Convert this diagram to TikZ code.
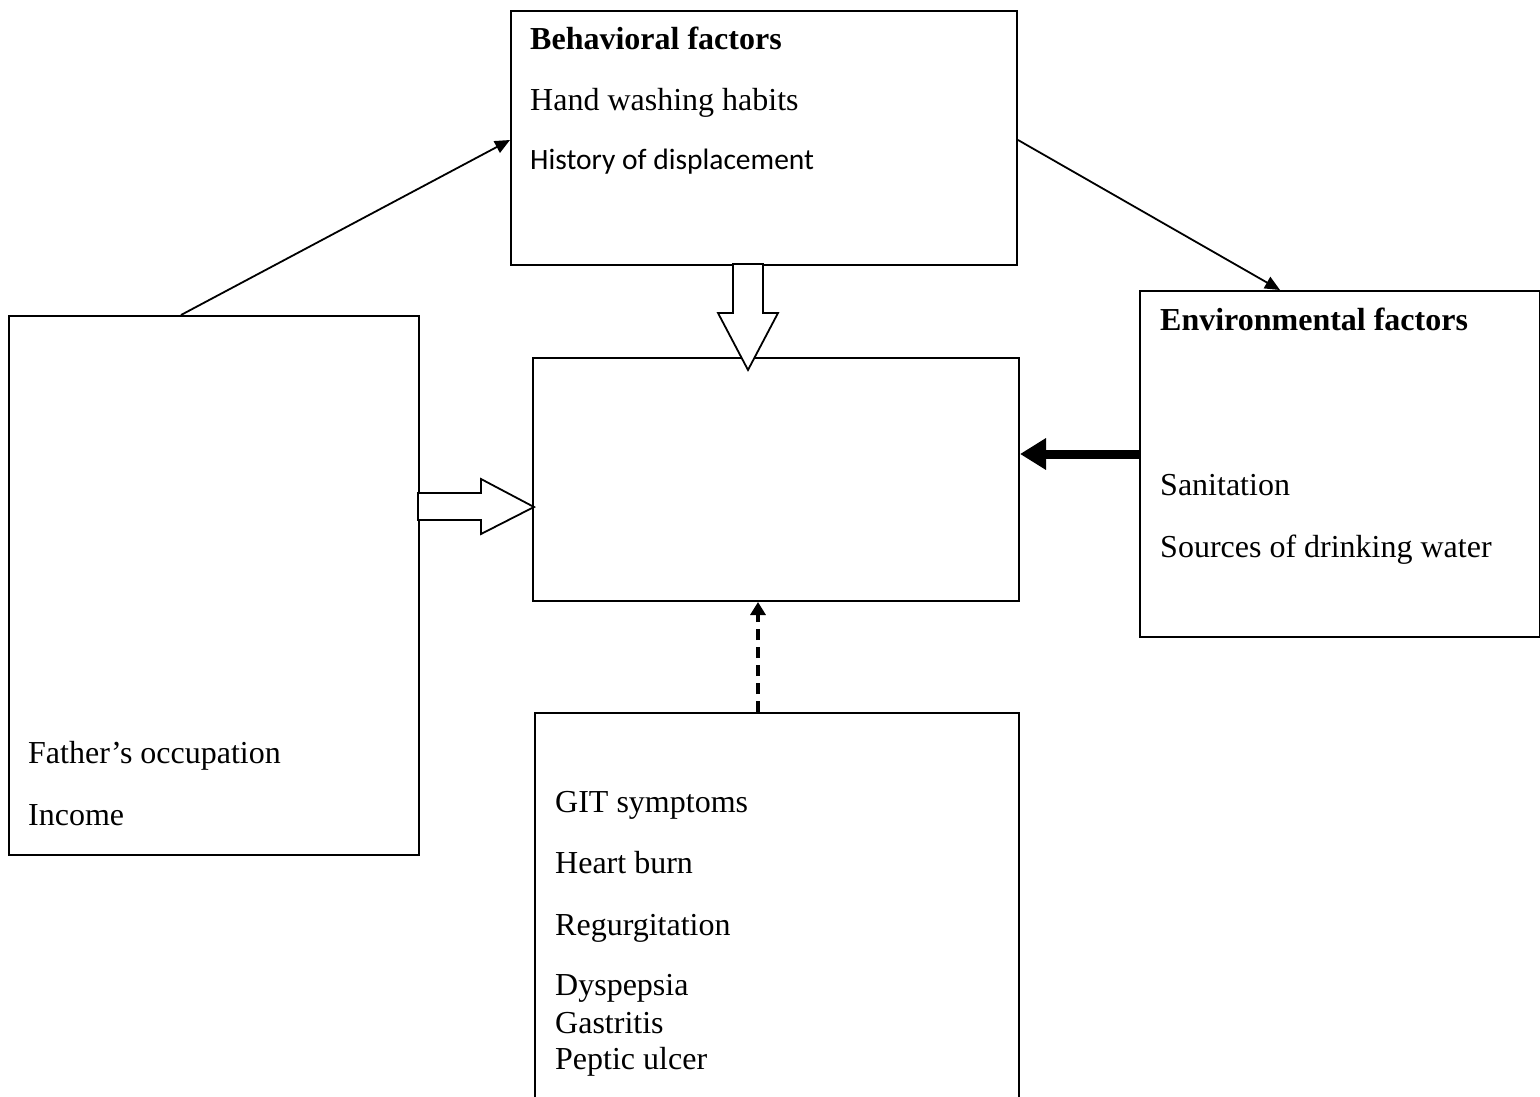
\documentclass[tikz,border=0pt]{standalone}
\usepackage{fontspec}
\setmainfont{Liberation Serif}
\newfontfamily\calib{Carlito}
\usetikzlibrary{arrows.meta,calc}
\tikzset{
  box/.style={draw=black, line width=2pt, fill=none, inner sep=0pt, anchor=north west},
  txt/.style={inner sep=0pt, anchor=base west, font=\fontsize{32}{38}\selectfont},
  calibtxt/.style={inner sep=0pt, anchor=base west, font=\calib\fontsize{29.5}{35}\selectfont},
  thin/.style={line width=1.8pt, -{Triangle[length=15pt,width=13pt]}},
  heavy/.style={line width=9pt, -{Triangle[length=26pt,width=30pt]}},
  dashlink/.style={line width=4pt, dash pattern=on 11pt off 7pt, -{Triangle[length=13pt,width=15pt]}},
  blockarrow/.style={draw=black, fill=white, line width=1.8pt, line join=miter}
}
\begin{document}
\begin{tikzpicture}[x=1pt,y=-1pt]
\clip (0,0) rectangle (1540,1097);
\fill[white] (0,0) rectangle (1540,1097);
% boxes
\node[box, minimum width=506pt, minimum height=254pt] (beh) at (510,10) {};
\node[box, minimum width=486pt, minimum height=243pt] (ctr) at (532,357) {};
\node[box, minimum width=400pt, minimum height=346pt] (env) at (1139,290) {};
\node[box, minimum width=410pt, minimum height=539pt] (left) at (8,315) {};
\node[box, minimum width=484pt, minimum height=420pt] (git) at (534,712) {};
% texts
\node[txt] (b1) at (530,50) {\bfseries Behavioral factors};
\node[txt] (b2) at (530,111) {Hand washing habits};
\node[calibtxt] (b3) at (530,170) {History of displacement};
\node[txt] (e1) at (1160,330) {\bfseries Environmental factors};
\node[txt] (e2) at (1160,495) {Sanitation};
\node[txt] (e3) at (1160,557) {Sources of drinking water};
\node[txt] (l1) at (28,763) {Father’s occupation};
\node[txt] (l2) at (28,825) {Income};
\node[txt] (g1) at (555,812) {GIT symptoms};
\node[txt] (g2) at (555,873) {Heart burn};
\node[txt] (g3) at (555,935) {Regurgitation};
\node[txt] (g4) at (555,995) {Dyspepsia};
\node[txt] (g5) at (555,1033) {Gastritis};
\node[txt] (g6) at (555,1069) {Peptic ulcer};
% thin arrows
\draw[thin] ([xshift=173pt]left.north west) -- ([yshift=-130pt]beh.north west);
\draw[thin] ([yshift=-130pt]beh.north east) -- ([xshift=141pt]env.north west);
% heavy arrow
\draw[heavy] ([yshift=-164pt]env.north west) -- ([yshift=-97pt]ctr.north east);
% dashed arrow
\draw[dashlink] ([xshift=224pt]git.north west) -- ([xshift=226pt]ctr.south west);
% hollow block arrow down
\draw[blockarrow] (733,264) -- (733,313) -- (718,313) -- (748,370) -- (778,313) -- (763,313) -- (763,264) -- cycle;
% hollow block arrow right
\draw[blockarrow] (418,493) -- (481,493) -- (481,479) -- (534,507) -- (481,534) -- (481,520) -- (418,520) -- cycle;
\end{tikzpicture}
\end{document}
